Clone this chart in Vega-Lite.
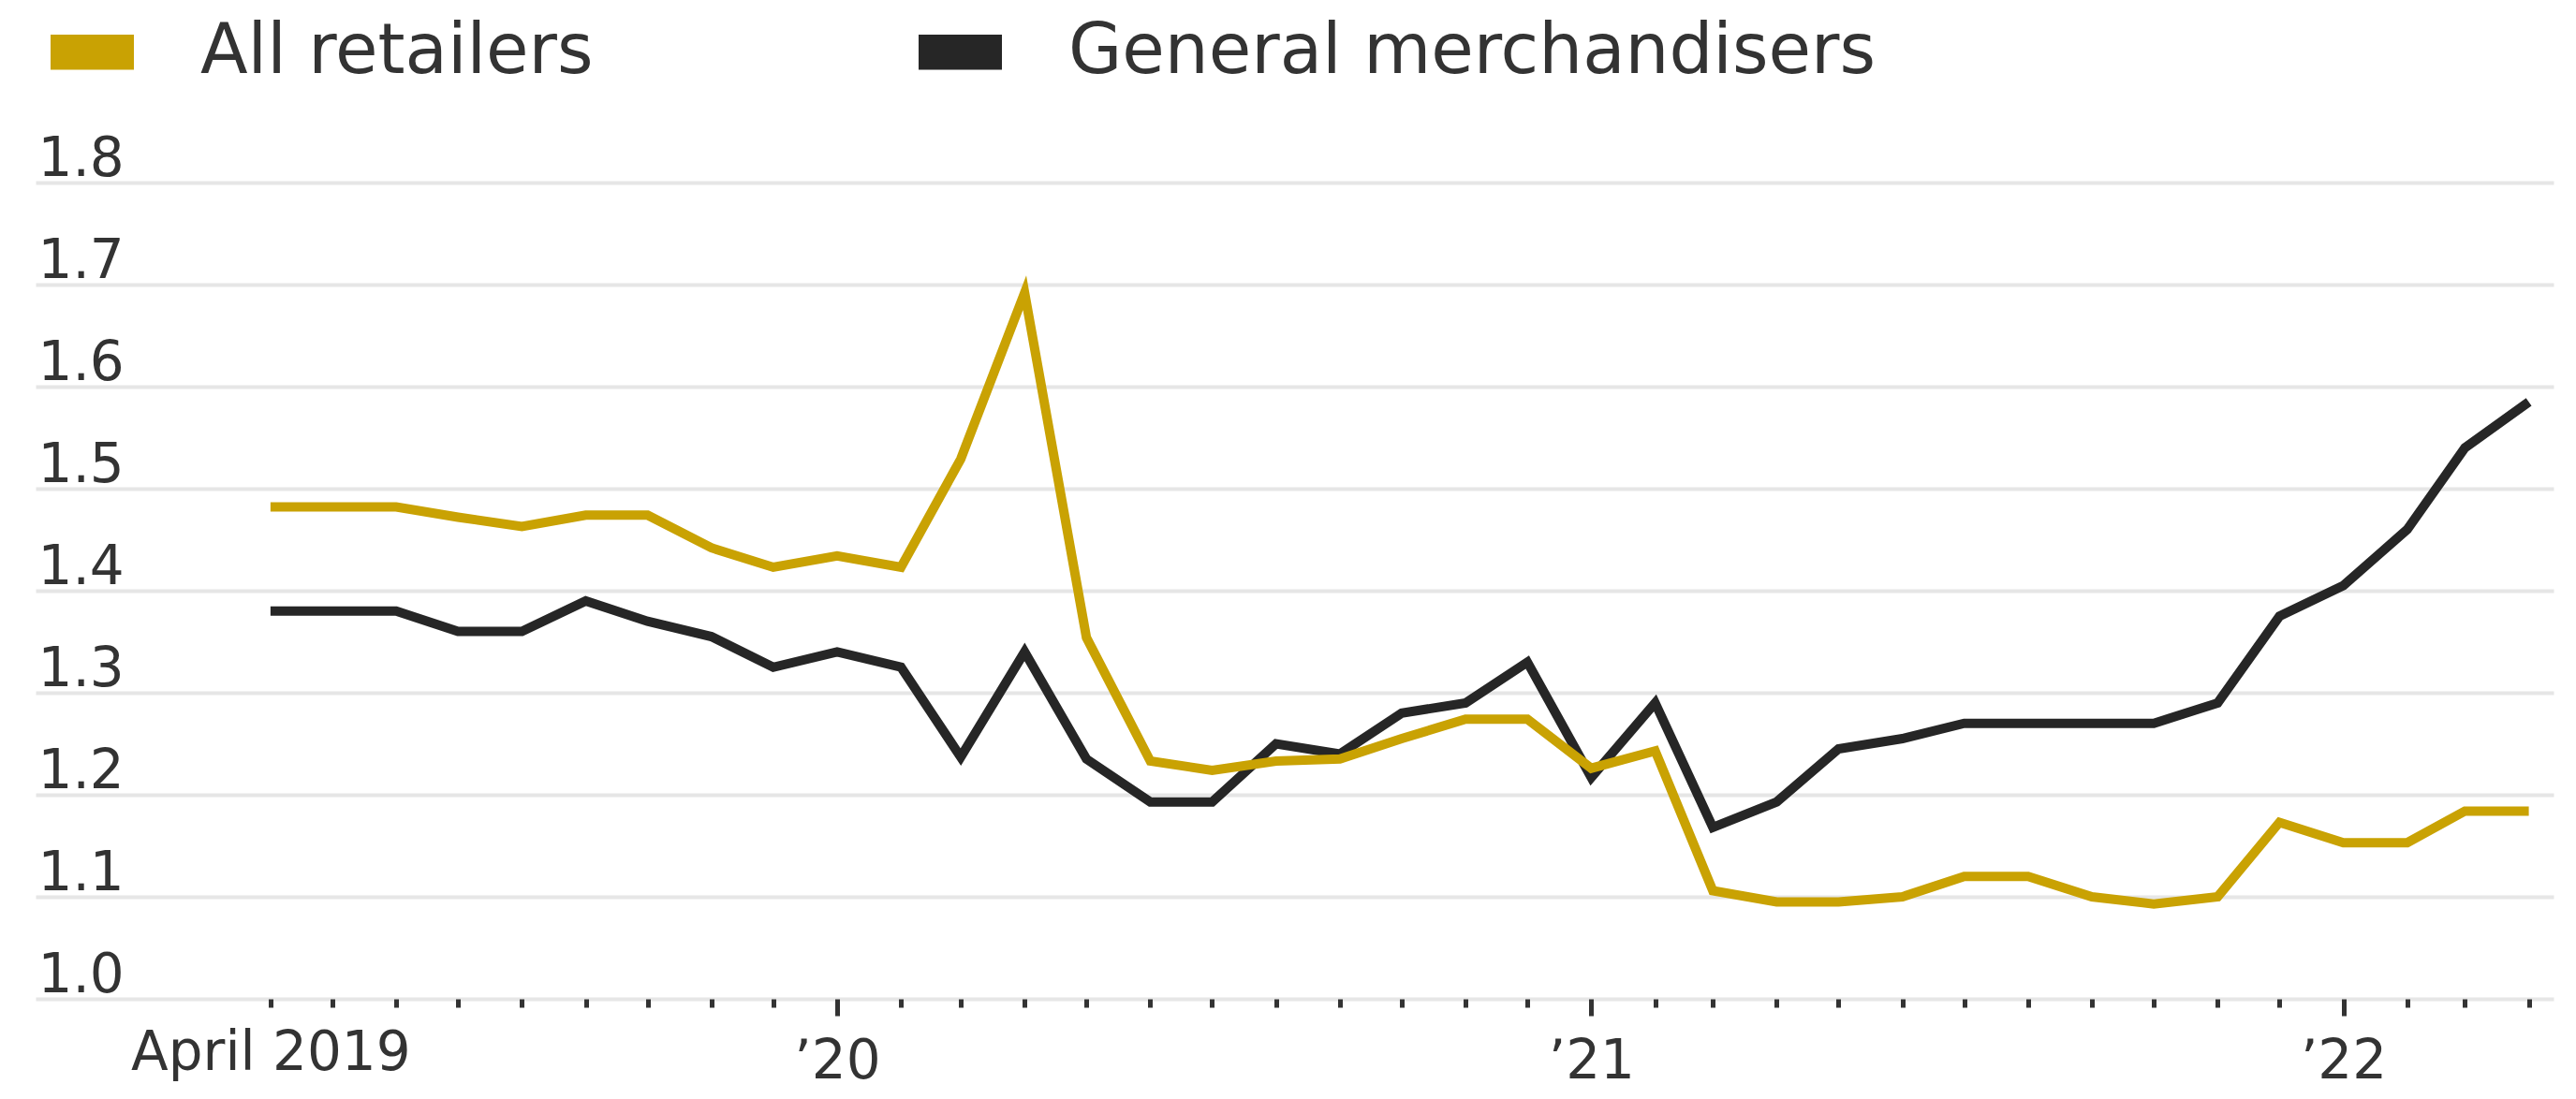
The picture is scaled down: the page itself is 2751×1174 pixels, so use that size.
{
  "$schema": "https://vega.github.io/schema/vega-lite/v6.json",
  "width": 2689,
  "height": 872,
  "autosize": {"type": "none"},
  "padding": {"left": 38, "top": 195, "right": 24, "bottom": 107},
  "background": "white",
  "config": {"view": {"stroke": null}, "font": "DejaVu Sans"},
  "data": {
    "values": [
      {"date": "2019-04-01", "series": "General merchandisers", "value": 1.38},
      {"date": "2019-05-01", "series": "General merchandisers", "value": 1.38},
      {"date": "2019-06-01", "series": "General merchandisers", "value": 1.38},
      {"date": "2019-07-01", "series": "General merchandisers", "value": 1.36},
      {"date": "2019-08-01", "series": "General merchandisers", "value": 1.36},
      {"date": "2019-09-01", "series": "General merchandisers", "value": 1.39},
      {"date": "2019-10-01", "series": "General merchandisers", "value": 1.37},
      {"date": "2019-11-01", "series": "General merchandisers", "value": 1.355},
      {"date": "2019-12-01", "series": "General merchandisers", "value": 1.325},
      {"date": "2020-01-01", "series": "General merchandisers", "value": 1.34},
      {"date": "2020-02-01", "series": "General merchandisers", "value": 1.325},
      {"date": "2020-03-01", "series": "General merchandisers", "value": 1.237},
      {"date": "2020-04-01", "series": "General merchandisers", "value": 1.34},
      {"date": "2020-05-01", "series": "General merchandisers", "value": 1.235},
      {"date": "2020-06-01", "series": "General merchandisers", "value": 1.193},
      {"date": "2020-07-01", "series": "General merchandisers", "value": 1.193},
      {"date": "2020-08-01", "series": "General merchandisers", "value": 1.25},
      {"date": "2020-09-01", "series": "General merchandisers", "value": 1.24},
      {"date": "2020-10-01", "series": "General merchandisers", "value": 1.28},
      {"date": "2020-11-01", "series": "General merchandisers", "value": 1.29},
      {"date": "2020-12-01", "series": "General merchandisers", "value": 1.33},
      {"date": "2021-01-01", "series": "General merchandisers", "value": 1.217},
      {"date": "2021-02-01", "series": "General merchandisers", "value": 1.29},
      {"date": "2021-03-01", "series": "General merchandisers", "value": 1.168},
      {"date": "2021-04-01", "series": "General merchandisers", "value": 1.193},
      {"date": "2021-05-01", "series": "General merchandisers", "value": 1.245},
      {"date": "2021-06-01", "series": "General merchandisers", "value": 1.255},
      {"date": "2021-07-01", "series": "General merchandisers", "value": 1.27},
      {"date": "2021-08-01", "series": "General merchandisers", "value": 1.27},
      {"date": "2021-09-01", "series": "General merchandisers", "value": 1.27},
      {"date": "2021-10-01", "series": "General merchandisers", "value": 1.27},
      {"date": "2021-11-01", "series": "General merchandisers", "value": 1.29},
      {"date": "2021-12-01", "series": "General merchandisers", "value": 1.375},
      {"date": "2022-01-01", "series": "General merchandisers", "value": 1.405},
      {"date": "2022-02-01", "series": "General merchandisers", "value": 1.46},
      {"date": "2022-03-01", "series": "General merchandisers", "value": 1.54},
      {"date": "2022-04-01", "series": "General merchandisers", "value": 1.585},
      {"date": "2019-04-01", "series": "All retailers", "value": 1.482},
      {"date": "2019-05-01", "series": "All retailers", "value": 1.482},
      {"date": "2019-06-01", "series": "All retailers", "value": 1.482},
      {"date": "2019-07-01", "series": "All retailers", "value": 1.472},
      {"date": "2019-08-01", "series": "All retailers", "value": 1.463},
      {"date": "2019-09-01", "series": "All retailers", "value": 1.474},
      {"date": "2019-10-01", "series": "All retailers", "value": 1.474},
      {"date": "2019-11-01", "series": "All retailers", "value": 1.442},
      {"date": "2019-12-01", "series": "All retailers", "value": 1.423},
      {"date": "2020-01-01", "series": "All retailers", "value": 1.434},
      {"date": "2020-02-01", "series": "All retailers", "value": 1.423},
      {"date": "2020-03-01", "series": "All retailers", "value": 1.529},
      {"date": "2020-04-01", "series": "All retailers", "value": 1.692},
      {"date": "2020-05-01", "series": "All retailers", "value": 1.354},
      {"date": "2020-06-01", "series": "All retailers", "value": 1.233},
      {"date": "2020-07-01", "series": "All retailers", "value": 1.224},
      {"date": "2020-08-01", "series": "All retailers", "value": 1.233},
      {"date": "2020-09-01", "series": "All retailers", "value": 1.235},
      {"date": "2020-10-01", "series": "All retailers", "value": 1.255},
      {"date": "2020-11-01", "series": "All retailers", "value": 1.274},
      {"date": "2020-12-01", "series": "All retailers", "value": 1.274},
      {"date": "2021-01-01", "series": "All retailers", "value": 1.226},
      {"date": "2021-02-01", "series": "All retailers", "value": 1.243},
      {"date": "2021-03-01", "series": "All retailers", "value": 1.106},
      {"date": "2021-04-01", "series": "All retailers", "value": 1.095},
      {"date": "2021-05-01", "series": "All retailers", "value": 1.095},
      {"date": "2021-06-01", "series": "All retailers", "value": 1.1},
      {"date": "2021-07-01", "series": "All retailers", "value": 1.12},
      {"date": "2021-08-01", "series": "All retailers", "value": 1.12},
      {"date": "2021-09-01", "series": "All retailers", "value": 1.1},
      {"date": "2021-10-01", "series": "All retailers", "value": 1.093},
      {"date": "2021-11-01", "series": "All retailers", "value": 1.1},
      {"date": "2021-12-01", "series": "All retailers", "value": 1.173},
      {"date": "2022-01-01", "series": "All retailers", "value": 1.153},
      {"date": "2022-02-01", "series": "All retailers", "value": 1.153},
      {"date": "2022-03-01", "series": "All retailers", "value": 1.184},
      {"date": "2022-04-01", "series": "All retailers", "value": 1.184}
    ]
  },
  "mark": {"type": "line", "strokeWidth": 10, "strokeJoin": "miter"},
  "encoding": {
    "x": {
      "field": "date",
      "type": "temporal",
      "scale": {
        "domain": [
          {"year": 2018, "month": 12, "date": 8},
          {"year": 2022, "month": 4, "date": 13}
        ]
      },
      "axis": {
        "title": null,
        "grid": false,
        "domain": false,
        "values": [
          {"year": 2019, "month": 4, "date": 1}, {"year": 2019, "month": 5, "date": 1},
          {"year": 2019, "month": 6, "date": 1}, {"year": 2019, "month": 7, "date": 1},
          {"year": 2019, "month": 8, "date": 1}, {"year": 2019, "month": 9, "date": 1},
          {"year": 2019, "month": 10, "date": 1}, {"year": 2019, "month": 11, "date": 1},
          {"year": 2019, "month": 12, "date": 1}, {"year": 2020, "month": 1, "date": 1},
          {"year": 2020, "month": 2, "date": 1}, {"year": 2020, "month": 3, "date": 1},
          {"year": 2020, "month": 4, "date": 1}, {"year": 2020, "month": 5, "date": 1},
          {"year": 2020, "month": 6, "date": 1}, {"year": 2020, "month": 7, "date": 1},
          {"year": 2020, "month": 8, "date": 1}, {"year": 2020, "month": 9, "date": 1},
          {"year": 2020, "month": 10, "date": 1}, {"year": 2020, "month": 11, "date": 1},
          {"year": 2020, "month": 12, "date": 1}, {"year": 2021, "month": 1, "date": 1},
          {"year": 2021, "month": 2, "date": 1}, {"year": 2021, "month": 3, "date": 1},
          {"year": 2021, "month": 4, "date": 1}, {"year": 2021, "month": 5, "date": 1},
          {"year": 2021, "month": 6, "date": 1}, {"year": 2021, "month": 7, "date": 1},
          {"year": 2021, "month": 8, "date": 1}, {"year": 2021, "month": 9, "date": 1},
          {"year": 2021, "month": 10, "date": 1}, {"year": 2021, "month": 11, "date": 1},
          {"year": 2021, "month": 12, "date": 1}, {"year": 2022, "month": 1, "date": 1},
          {"year": 2022, "month": 2, "date": 1}, {"year": 2022, "month": 3, "date": 1},
          {"year": 2022, "month": 4, "date": 1}
        ],
        "labelExpr": "month(datum.value) === 3 && year(datum.value) === 2019 ? 'April 2019' : (month(datum.value) === 0 ? '’' + substring(toString(year(datum.value)), 2) : '')",
        "tickColor": "#333333",
        "tickWidth": 5,
        "tickSize": {"condition": {"test": "month(datum.value) === 0", "value": 18}, "value": 9},
        "labelFontSize": 58,
        "labelColor": "#333333",
        "labelBaseline": "alphabetic",
        "labelPadding": 66,
        "labelLimit": 1000,
        "labelFlush": false,
        "labelOverlap": false,
        "labelBound": false
      }
    },
    "y": {
      "field": "value",
      "type": "quantitative",
      "scale": {"domain": [1.0, 1.8], "nice": false, "zero": false},
      "axis": {
        "title": null,
        "values": [1.0, 1.1, 1.2, 1.3, 1.4, 1.5, 1.6, 1.7, 1.8],
        "format": ".1f",
        "grid": true,
        "gridColor": "#e6e6e6",
        "gridWidth": 4,
        "domain": false,
        "ticks": false,
        "tickSize": 0,
        "labelAlign": "left",
        "labelBaseline": "alphabetic",
        "labelPadding": -2,
        "labelOffset": -8,
        "labelFontSize": 58,
        "labelColor": "#333333",
        "labelOverlap": false,
        "labelBound": false,
        "labelFlush": false
      }
    },
    "color": {
      "field": "series",
      "type": "nominal",
      "scale": {
        "domain": ["All retailers", "General merchandisers"],
        "range": ["#C9A203", "#262626"]
      },
      "legend": {
        "title": null,
        "orient": "none",
        "legendX": 16,
        "legendY": -184,
        "direction": "horizontal",
        "padding": 0,
        "symbolType": "M-1,-0.42H1V0.42H-1Z",
        "symbolSize": 7921,
        "symbolStrokeWidth": 0,
        "labelFontSize": 74,
        "labelColor": "#333333",
        "labelOffset": 71,
        "columnPadding": 347,
        "labelLimit": 2000,
        "encode": {
          "symbols": {
            "update": {
              "fill": {"scale": "color", "field": "value"},
              "fillOpacity": {"value": 1},
              "strokeWidth": {"value": 0}
            }
          }
        }
      }
    }
  }
}
